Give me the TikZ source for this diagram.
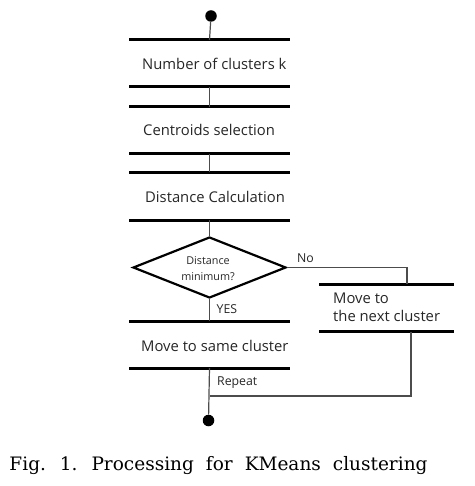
\documentclass[tikz,border=0pt]{standalone}
\usepackage{fontspec}
\setmainfont{DejaVu Serif}
\newfontfamily\flowfont{Open Sans}
\usetikzlibrary{shapes.geometric}
\tikzset{
  steplabel/.style={font=\flowfont\fontsize{14.8}{17}\selectfont,
                    anchor=base west, inner sep=0pt, text=black!85},
  smalllabel/.style={font=\flowfont\fontsize{10.8}{12}\selectfont,
                     inner sep=0pt, text=black!85},
  branchlabel/.style={smalllabel, anchor=west,
                      font=\flowfont\fontsize{12.3}{14}\selectfont},
  bar/.style={line width=3pt},
  flow/.style={line width=1.2pt, black!70},
  dot/.style={circle, fill=black, inner sep=0pt, minimum size=11.5pt}
}

\begin{document}
\begin{tikzpicture}[x=1pt,y=-1pt]
\useasboundingbox (0,0) rectangle (474,486);

% bars above and below the activities
\foreach [count=\i] \y in {40,87,107,154,172.5,220,321,368}
  {
   \coordinate (bar-\i) at (209.5,\y);
   \draw [bar] ([xshift=-80.5pt]bar-\i) -- ([xshift=80.5pt]bar-\i);
  }
\coordinate (next-top) at (386.5,284.3);
\coordinate (next-bot) at (386.5,331.7);
\draw [bar] ([xshift=-67.5pt]next-top) -- ([xshift=67.5pt]next-top);
\draw [bar] ([xshift=-67.5pt]next-bot) -- ([xshift=67.5pt]next-bot);

% activities
\node [steplabel] (clusters) at (142,69.3) {Number of clusters k};
\node [steplabel] (centroids) at (143,136) {Centroids selection};
\node [steplabel] (distance) at (145,202.3) {Distance Calculation};
\node [steplabel] (same) at (141,351.7) {Move to same cluster};
\node [steplabel] (next-a) at (333,303.3) {Move to};
\node [steplabel] (next-b) at (333,321.7) {the next cluster};

\node [draw, diamond, line width=2.2pt, minimum width=153pt,
       minimum height=61pt, inner sep=0pt] (minimum) at (209.5,267.5) {};
\node [smalllabel] (minimum-a) at (208,260.5) {Distance};
\node [smalllabel] (minimum-b) at (208,277) {minimum?};

\node [dot] (start) at (211,16) {};
\node [dot] (end) at (208.5,420.5) {};

% connectors
\coordinate (no-in) at (407,284.3);
\coordinate (no-out) at (411,331.7);
\coordinate (join) at (209.5,396);
\draw [flow] (start) -- (bar-1);
\draw [flow] (bar-2) -- (bar-3);
\draw [flow] (bar-4) -- (bar-5);
\draw [flow] (bar-6) -- (minimum.north);
\draw [flow] (minimum.south) -- (bar-7);
\node [branchlabel] (yes) at (216.5,309.3) {YES};
\draw [flow] (minimum.east) -| (no-in);
\node [branchlabel] (no) at (297,258) {No};
\draw [flow] (bar-8) -- (end);
\draw [flow] (no-out) |- (join);
\node [branchlabel] (repeat) at (217,382.7) {Repeat};

% caption
\node [font=\fontsize{18.5}{20}\selectfont] (caption) at (218.5,466)
  {\spaceskip=12pt plus 2pt Fig. 1. Processing for KMeans clustering};
\end{tikzpicture}
\end{document}
